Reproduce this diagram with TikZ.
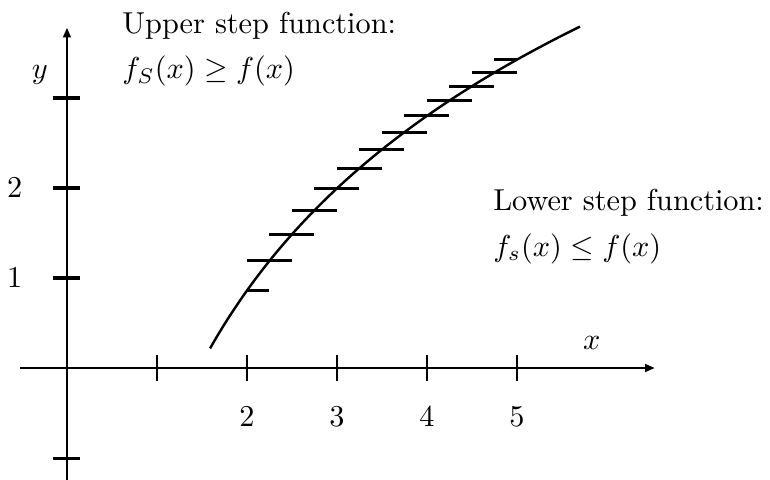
\documentclass[tikz,border=0pt]{standalone}
\usepackage{amsmath,amssymb}
\usetikzlibrary{arrows.meta}

\begin{document}
\begin{tikzpicture}[
    x=1.045cm, y=1.045cm,
    >={Triangle[length=3.2pt, width=2.6pt]},
    axis/.style={line width=0.6pt},
    xtick/.style={line width=0.6pt},
    ytick/.style={line width=1pt},
    curve/.style={line width=0.8pt},
    stepseg/.style={line width=1pt},
    textlbl/.style={align=left, anchor=north west, inner sep=0pt}
]
% Function f(x) = a ln(x) - b and its plotted range
\def\fa{2.8}  \def\fb{1.08}
\def\xstart{1.59} \def\xend{5.7}
% Page size
\useasboundingbox (-0.744, -1.244) rectangle (7.811, 4.089);
% Axes
\coordinate (xl) at (-0.52, 0);
\coordinate (xr) at (6.53, 0);
\coordinate (yb) at (0, -1.25);
\coordinate (yt) at (0, 3.78);
\draw[axis, ->] (xl) -- (xr);
\draw[axis, ->] (yb) -- (yt);
% Ticks and tick labels
\foreach \x in {1,...,5} \draw[xtick] (\x, -0.14) -- (\x, 0.14);
\foreach \x in {2,...,5} \node (xt\x) at (\x, -0.54) {$\x$};
\foreach \y in {-1,1,2,3} \draw[ytick] (-0.16, \y) -- (0.14, \y);
\foreach \y in {1,2} \node (yt\y) at (-0.58, \y) {$\y$};
% Axis names
\node (ylab) at (-0.30, 3.26) {$y$};
\node (xlab) at (5.83, 0.28) {$x$};
% The curve
\draw[curve, domain=\xstart:\xend, samples=60, smooth] plot (\x, {\fa*ln(\x)-\fb});
% Step pieces: one per partition point, half a step on each side
\foreach \i in {0,...,12} {
  \pgfmathsetmacro{\xc}{2+0.25*\i}
  \pgfmathsetmacro{\xa}{max(2, \xc-0.25)}
  \pgfmathsetmacro{\xb}{min(5, \xc+0.25)}
  \pgfmathsetmacro{\yc}{\fa*ln(\xc)-\fb}
  \draw[stepseg] (\xa, \yc) -- (\xb, \yc);
}
% Labels
\node[textlbl] (upper) at (0.61, 3.96) {Upper step function:\\[3pt] $f_S(x) \ge f(x)$};
\node[textlbl] (lower) at (4.73, 1.99) {Lower step function:\\[3pt] $f_s(x) \le f(x)$};
\end{tikzpicture}
\end{document}
